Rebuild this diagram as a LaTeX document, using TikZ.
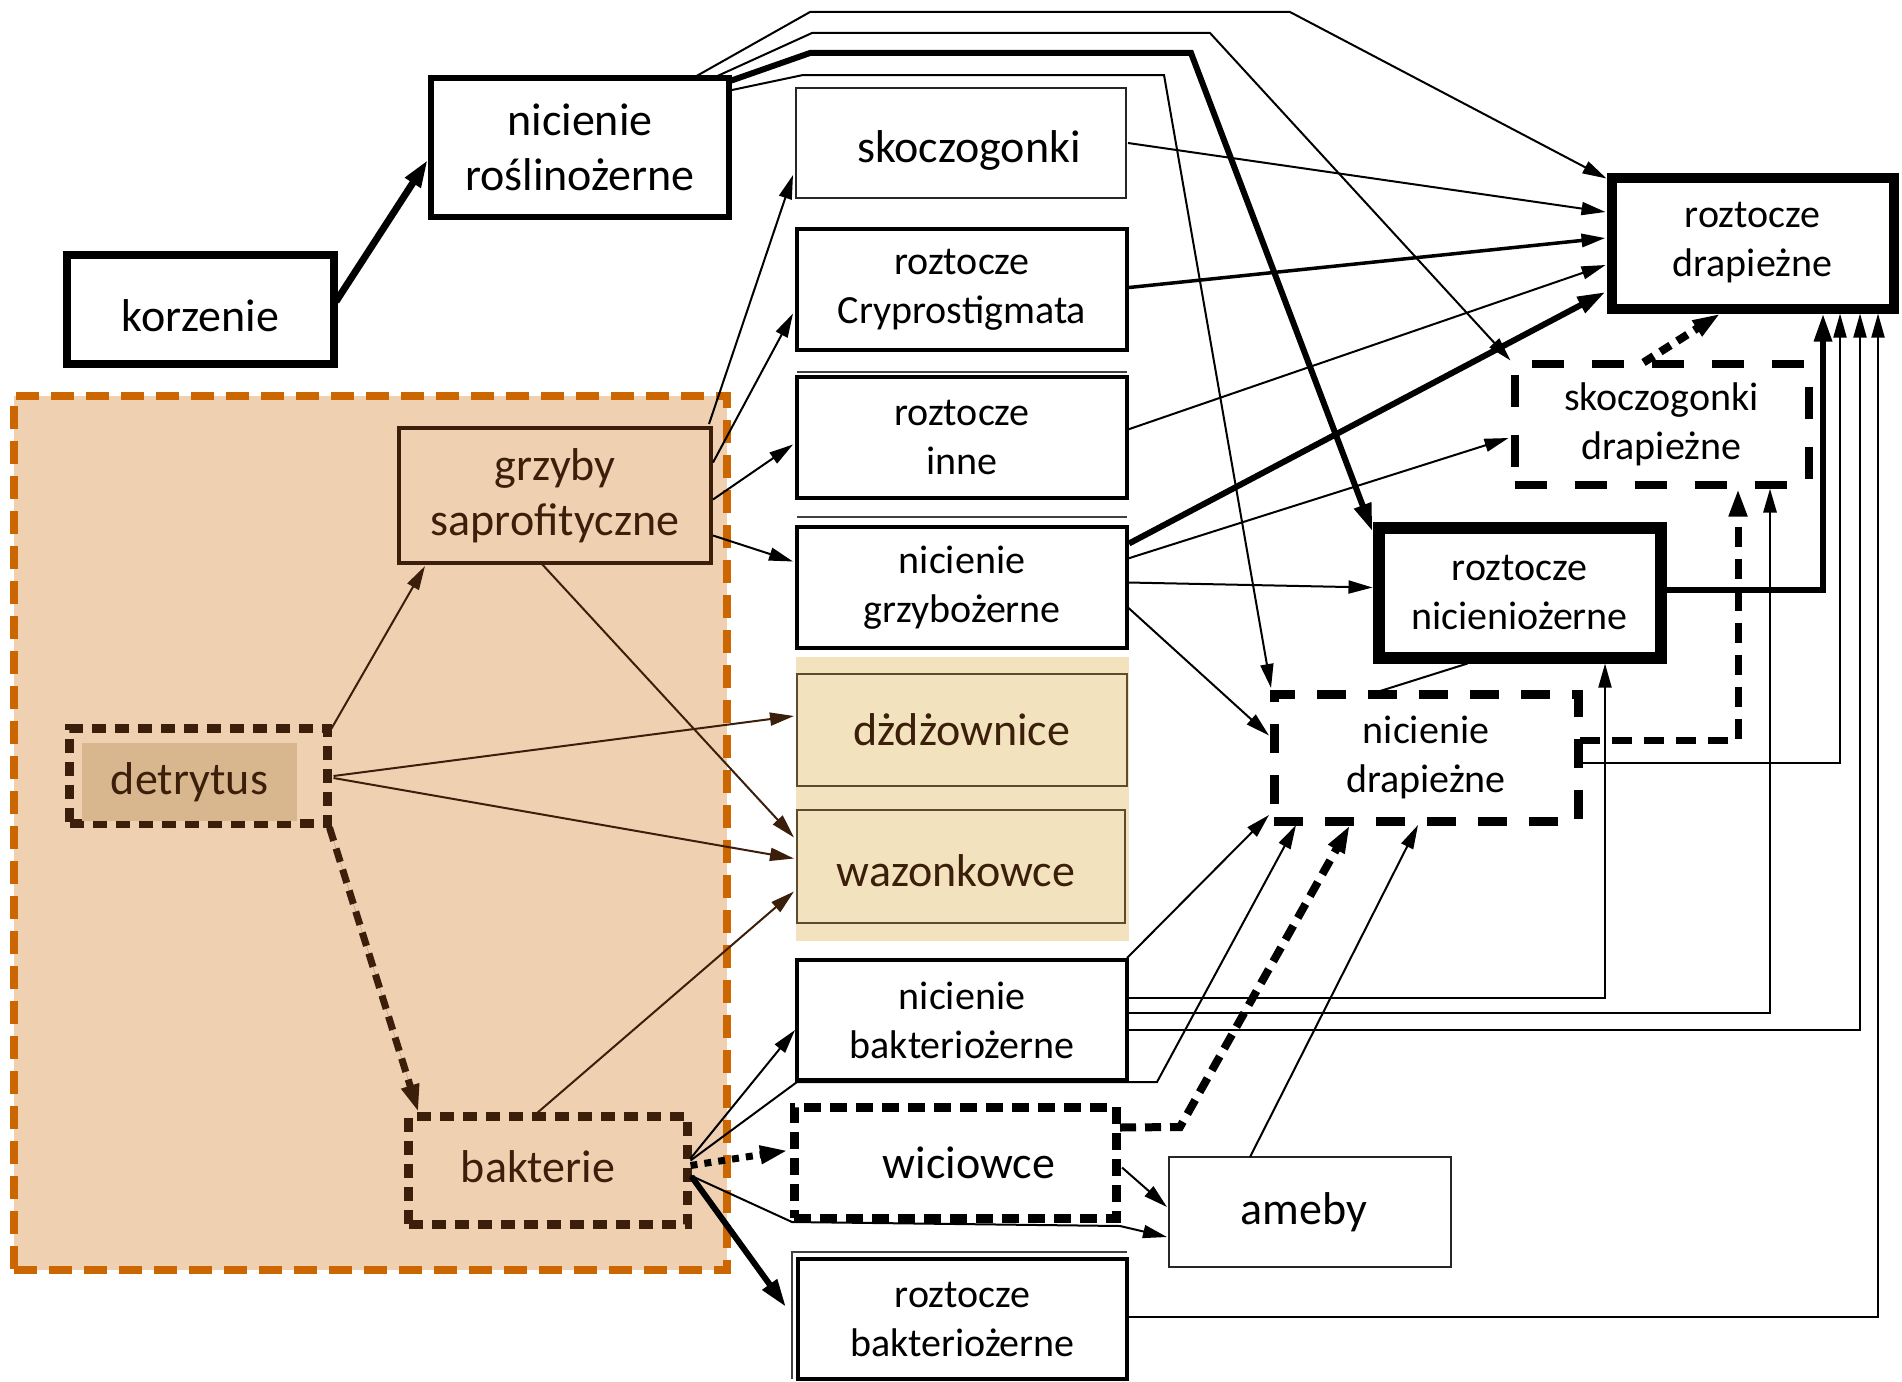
\documentclass[tikz,border=0pt]{standalone}
\usepackage{fontspec}
\setmainfont{Carlito}
\usetikzlibrary{arrows.meta,calc}

\definecolor{grpfill}{HTML}{EFD0B1}
\definecolor{grpline}{HTML}{CC6600}
\definecolor{soilbrown}{HTML}{3B1F0B}
\definecolor{wormfill}{HTML}{F2E3BE}
\definecolor{wormline}{HTML}{5C4B2E}
\definecolor{detfill}{HTML}{D8B68E}

% shift a label down (negative) or up without changing its box
\newcommand{\lowerlabel}[2]{\raisebox{#1}[\height][\depth]{#2}}

\begin{document}
\begin{tikzpicture}[x=1pt,y=-1pt,
  every node/.style={inner sep=0pt,outer sep=0pt,align=center},
  bigtxt/.style={font=\fontsize{46}{55}\selectfont},
  midtxt/.style={font=\fontsize{40}{49}\selectfont},
  plainbox/.style={draw=black,fill=white,rectangle},
  headthin/.style={-{Triangle[length=24pt,width=13pt]}},
  headfat/.style={-{Triangle[length=28pt,width=17pt]}},
  lnk/.style={line width=2pt,headthin},
  lnkmid/.style={line width=3.5pt,headthin},
  lnkthick/.style={line width=6pt,headfat},
  lnkbrown/.style={lnk,draw=soilbrown,fill=soilbrown},
  dashlnk/.style={line width=8pt,dash pattern=on 16pt off 9pt,headfat},
  plainline/.style={line width=2pt},
]
\useasboundingbox (0,0) rectangle (1902,1381);

% ---------- decomposer compartment ----------
\node[draw=grpline,fill=grpfill,line width=8pt,dash pattern=on 23pt off 12pt,
      minimum width=713pt,minimum height=874pt] (grp) at (370.5,833) {};

% ---------- boxes ----------
\node[plainbox,line width=8pt,minimum width=267pt,minimum height=109pt,bigtxt] (kor) at (200.5,309.5) {\lowerlabel{-6pt}{korzenie}};
\node[plainbox,line width=6pt,minimum width=298pt,minimum height=139pt,bigtxt] (nr) at (580,147.5) {nicienie\\roślinożerne};

\node[plainbox,draw=black!85,line width=2.5pt,minimum width=330pt,minimum height=110pt,bigtxt] (sk) at (961,143) {\hspace*{16pt}\lowerlabel{-7pt}{skoczogonki}};
\node[plainbox,line width=4pt,minimum width=330pt,minimum height=121pt,midtxt] (rc) at (962,289.5) {roztocze\\Cryprostigmata};
\node[plainbox,line width=4pt,minimum width=330pt,minimum height=121pt,midtxt] (ri) at (962,437.5) {roztocze\\inne};
\node[plainbox,line width=4pt,minimum width=330pt,minimum height=121pt,midtxt] (ng) at (962,587.5) {nicienie\\grzybożerne};

\node[fill=wormfill,minimum width=333pt,minimum height=284pt] (wbg) at (962.5,799) {};
\node[draw=wormline,fill=wormfill,line width=2pt,minimum width=330pt,minimum height=112pt,text=soilbrown,bigtxt] (dz) at (962,730) {dżdżownice};
\node[draw=wormline,fill=wormfill,line width=2pt,minimum width=328pt,minimum height=113pt,text=soilbrown,bigtxt] (wa) at (961,866.5) {\hspace*{-10pt}\lowerlabel{-4pt}{wazonkowce}};

\node[plainbox,line width=4pt,minimum width=330pt,minimum height=120pt,midtxt] (nb) at (962,1020) {nicienie\\bakteriożerne};
\node[plainbox,line width=9pt,dash pattern=on 17pt off 9pt,minimum width=322pt,minimum height=111pt,bigtxt] (wi) at (955,1162.5) {\hspace*{28pt}wiciowce};
\node[plainbox,draw=black!85,line width=2pt,minimum width=282pt,minimum height=110pt,bigtxt] (am) at (1310,1212) {\hspace*{-12pt}ameby};
\node[plainbox,line width=4pt,minimum width=329pt,minimum height=120pt,midtxt] (rb) at (962.5,1319) {roztocze\\bakteriożerne};

\node[plainbox,line width=10pt,minimum width=282pt,minimum height=131pt,midtxt] (rd) at (1752.5,243) {roztocze\\drapieżne};
\node[plainbox,line width=8pt,dash pattern=on 32pt off 28pt,minimum width=294pt,minimum height=121pt,midtxt] (sd) at (1661.5,424) {skoczogonki\\drapieżne};
\node[plainbox,line width=12pt,minimum width=282pt,minimum height=130pt,midtxt] (rn) at (1519.5,592.5) {roztocze\\nicieniożerne};
\node[plainbox,line width=9pt,dash pattern=on 29pt off 22pt,minimum width=304pt,minimum height=127pt,midtxt] (nd) at (1426,757.5) {nicienie\\drapieżne};

\node[draw=soilbrown,fill=grpfill,line width=4pt,minimum width=312pt,minimum height=135pt,text=soilbrown,bigtxt] (gs) at (555,495.5) {grzyby\\saprofityczne};
\node[draw=soilbrown,line width=9pt,dash pattern=on 14pt off 9pt,minimum width=258pt,minimum height=95pt] (de) at (198.5,776) {};
\node[fill=detfill,minimum width=215pt,minimum height=78pt,text=soilbrown,bigtxt] (det) at (189.5,782) {detrytus};
\node[draw=soilbrown,line width=9pt,dash pattern=on 14pt off 9pt,minimum width=279pt,minimum height=108pt,text=soilbrown,bigtxt] (ba) at (548,1170.5) {\hspace*{-20pt}\lowerlabel{4pt}{bakterie}};

% faint doubled edges above some boxes
\draw[line width=1.5pt,black!75] ($(ri.north west)+(0,-5)$) -- ($(ri.north east)+(0,-5)$);
\draw[line width=1.5pt,black!75] ($(ng.north west)+(0,-10)$) -- ($(ng.north east)+(0,-10)$);
\draw[line width=1.5pt,black!75] ($(rb.south west)+(-6,0)$) -- ($(rb.north west)+(-6,-7)$) -- ($(rb.north east)+(0,-7)$);

% ---------- roots and herbivorous nematodes ----------
\draw[lnkthick,line width=7pt] ($(kor.east)+(2,-8)$) -- ($(nr.west)+(-3,12)$);
\draw[lnk] ($(nr.north east)+(-36,0)$) -- (810,12) -- (1290,12) -- ($(rd.north west)+(-5,1)$);
\draw[lnk] ($(nr.north east)+(-16,0)$) -- (812,33) -- (1210,33) -- ($(sd.north west)+(-4,-3)$);
\draw[lnkthick] ($(nr.north east)+(1,3)$) -- (810,53) -- (1191,53) -- ($(rn.north west)+(-6,4)$);
\draw[lnk] ($(nr.north east)+(3,12)$) -- (803,75) -- (1164,75) -- ($(nd.north west)+(-3,-6)$);

% ---------- into predatory mites ----------
\draw[lnk] ($(sk.east)+(2,0)$) -- ($(rd.west)+(-6,-31)$);
\draw[lnkmid] ($(rc.east)+(2,-2)$) -- ($(rd.west)+(-6,-5)$);
\draw[lnk] ($(ri.east)+(1,-8)$) -- ($(rd.west)+(-6,22)$);
\draw[lnkthick] ($(ng.east)+(2,-44)$) -- ($(rd.west)+(-6,49)$);

% ---------- fungivorous nematodes ----------
\draw[lnk] ($(ng.east)+(1,-29)$) -- ($(sd.west)+(-6,14)$);
\draw[lnk] ($(ng.east)+(1,-5)$) -- ($(rn.west)+(-6,-5)$);
\draw[lnk] ($(ng.east)+(1,20)$) -- ($(nd.west)+(-5,-22)$);

% ---------- among predators ----------
\draw[dashlnk,dash pattern=on 12pt off 8pt] ($(sd.north)+(-18,-1)$) -- ($(rd.south)+(-32,5)$);
\draw[lnkthick] ($(rn.east)+(0,-3)$) -| ($(rd.south)+(70.5,5)$);
\draw[dashlnk,line width=7pt,dash pattern=on 20pt off 12pt] ($(nd.east)+(2,-17)$) -| ($(sd.south)+(76.5,4)$);
\draw[lnk] ($(nd.east)+(2,5)$) -| ($(rd.south)+(87.5,5)$);
\draw[plainline] ($(rn.south)+(-52,6)$) -- ($(nd.north)+(-49,-2)$);

% ---------- bacterivores to predators ----------
\draw[lnk] ($(nb.east)+(1,-22)$) -| ($(rn.south)+(85.5,6)$);
\draw[lnk,line width=2.8pt] ($(nb.east)+(1,-7)$) -| ($(sd.south)+(108.5,4)$);
\draw[lnk] ($(nb.east)+(1,10)$) -| ($(rd.south)+(107.5,5)$);
\draw[lnk] ($(rb.east)+(1,-2)$) -| ($(rd.south)+(125.5,5)$);

% ---------- into predatory nematodes from below ----------
\draw[lnk] ($(nb.north east)+(0,-2)$) -- ($(nd.south west)+(-5,-6)$);
\draw[lnk] ($(ba.east)+(3,-10)$) -- ($(nb.south west)+(0,2)$) -- ($(nb.south east)+(30,2)$) -- ($(nd.south west)+(22,4)$);
\draw[dashlnk] ($(wi.east)+(4,-35)$) -- (1180,1127) -- ($(nd.south)+(-76,4)$);
\draw[lnk] ($(am.north)+(-60,0)$) -- ($(nd.south)+(-8,4)$);

% ---------- protozoa ----------
\draw[lnk] ($(wi.east)+(6,5)$) -- ($(am.west)+(-2,-5)$);
\draw[lnk] ($(ba.east)+(3,5)$) -- ($(wi.south west)+(-2,4)$) -- ($(wi.south east)+(4,8)$) -- ($(am.west)+(-2,25)$);

% ---------- bacteria ----------
\draw[lnk] ($(ba.east)+(3,-12)$) -- ($(nb.west)+(-2,10)$);
\draw[lnk,line width=7pt,dash pattern=on 7pt off 7pt,headfat] ($(ba.east)+(3,-5)$) -- ($(wi.west)+(-6,-12)$);
\draw[lnkthick] ($(ba.east)+(4,6)$) -- ($(rb.west)+(-12,-12)$);
\draw[lnkbrown] ($(ba.north)+(-15,0)$) -- ($(wa.west)+(-3,25)$);

% ---------- detritus and fungi ----------
\draw[lnkbrown] ($(de.north east)+(4,0)$) -- ($(gs.south west)+(26,3)$);
\draw[lnkbrown] ($(gs.south)+(-14,0)$) -- ($(wa.west)+(-3,-29)$);
\draw[lnkbrown] ($(de.east)+(6,0)$) -- ($(dz.west)+(-3,-14)$);
\draw[lnkbrown] ($(de.east)+(6,2)$) -- ($(wa.west)+(-3,-8)$);
\draw[dashlnk,draw=soilbrown,fill=soilbrown,line width=7pt,dash pattern=on 14pt off 8pt] ($(de.south east)+(2,4)$) -- ($(ba.north west)+(10,-4)$);
\draw[lnk] ($(gs.north east)+(-2,-4)$) -- ($(sk.south west)+(-3,-23)$);
\draw[lnk] ($(gs.east)+(2,-33)$) -- ($(rc.west)+(-4,24)$);
\draw[lnk] ($(gs.east)+(2,4)$) -- ($(ri.west)+(-4,7)$);
\draw[lnk] ($(gs.east)+(2,40)$) -- ($(ng.west)+(-4,-26)$);
\end{tikzpicture}
\end{document}
